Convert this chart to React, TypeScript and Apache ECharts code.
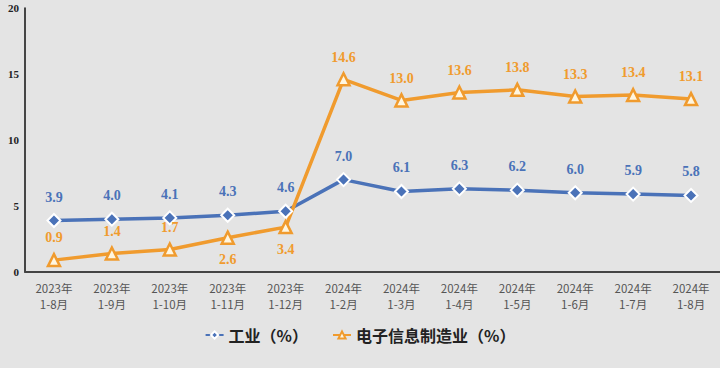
import React, { useEffect, useRef } from "react";
import * as echarts from "echarts";

const categories = [
  "2023年\n1-8月", "2023年\n1-9月", "2023年\n1-10月", "2023年\n1-11月", "2023年\n1-12月",
  "2024年\n1-2月", "2024年\n1-3月", "2024年\n1-4月", "2024年\n1-5月", "2024年\n1-6月",
  "2024年\n1-7月", "2024年\n1-8月",
];
const industry = [3.9, 4.0, 4.1, 4.3, 4.6, 7.0, 6.1, 6.3, 6.2, 6.0, 5.9, 5.8];
const electronics = [0.9, 1.4, 1.7, 2.6, 3.4, 14.6, 13.0, 13.6, 13.8, 13.3, 13.4, 13.1];
const electronicsLabelPos = ["top", "top", "top", "bottom", "bottom", "top", "top", "top", "top", "top", "top", "top"];

const BLUE = "#4a72b8";
const ORANGE = "#f09b2e";

export default function App() {
  const ref = useRef<HTMLDivElement>(null);
  useEffect(() => {
    document.body.style.margin = "0";
    const chart = echarts.init(ref.current!, null, { renderer: "svg" });
    const labelFont = {
      fontFamily: "'Liberation Serif', 'Times New Roman', serif",
      fontWeight: "bold" as const,
      fontSize: 14,
    };
    chart.setOption({
      animation: false,
      backgroundColor: "#e4e4e4",
      grid: { left: 25, right: 0, top: 8, bottom: 96 },
      legend: {
        bottom: 20,
        left: "center",
        itemWidth: 18,
        itemHeight: 9,
        itemGap: 24,
        textStyle: {
          fontFamily: "'Noto Sans CJK SC', sans-serif",
          fontWeight: "bold",
          fontSize: 16,
          color: "#222",
        },
        data: ["工业（%）", "电子信息制造业（%）"],
      },
      xAxis: {
        type: "category",
        data: categories,
        boundaryGap: true,
        axisLine: { lineStyle: { color: "#444", width: 2 } },
        axisTick: { show: false },
        axisLabel: {
          color: "#555",
          fontSize: 11.5,
          lineHeight: 16,
          margin: 8,
          fontFamily: "'Noto Sans CJK SC', sans-serif",
          interval: 0,
        },
      },
      yAxis: {
        type: "value",
        min: 0,
        max: 20,
        interval: 5,
        splitLine: { show: false },
        axisLine: { show: true, lineStyle: { color: "#111", width: 1.5 } },
        axisTick: { show: false },
        axisLabel: {
          color: "#222",
          fontSize: 11,
          margin: 6,
          fontFamily: "'Liberation Serif', serif",
          fontWeight: "bold",
        },
      },
      series: [
        {
          name: "工业（%）",
          type: "line",
          data: industry,
          symbol: "diamond",
          symbolSize: 13,
          lineStyle: { color: BLUE, width: 3.5 },
          itemStyle: { color: BLUE, borderColor: "#fff", borderWidth: 2 },
          label: { show: true, position: "top", distance: 9, color: BLUE, ...labelFont, formatter: (p: any) => p.value.toFixed(1) },
        },
        {
          name: "电子信息制造业（%）",
          type: "line",
          data: electronics.map((v, i) => ({
            value: v,
            label: { position: electronicsLabelPos[i] },
          })),
          symbol: "triangle",
          symbolSize: 12,
          lineStyle: { color: ORANGE, width: 3.5 },
          itemStyle: { color: "#fff6e0", borderColor: ORANGE, borderWidth: 2.5 },
          label: { show: true, position: "top", distance: 8, color: ORANGE, ...labelFont, formatter: (p: any) => p.value.toFixed(1) },
        },
      ],
    });
    return () => chart.dispose();
  }, []);
  return <div ref={ref} style={{ width: 720, height: 368 }} />;
}
